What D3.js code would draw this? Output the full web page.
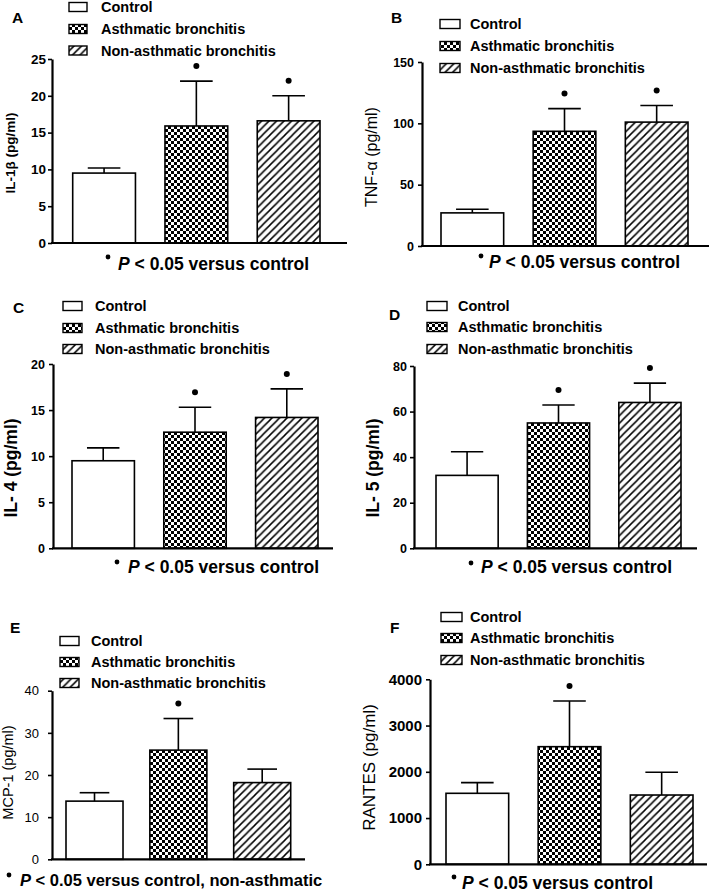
<!DOCTYPE html>
<html><head><meta charset="utf-8">
<script src="https://cdn.jsdelivr.net/npm/d3@7"></script>
<style>body{margin:0;background:#fff}svg{display:block}</style>
</head><body>
<svg id="chart" width="709" height="894"></svg>
<script>
// ---------- DATA ----------
const categories = ["Control", "Asthmatic bronchitis", "Non-asthmatic bronchitis"];
const panelLetters = ["A", "B", "C", "D", "E", "F"];
const yLabels = ["IL-1β (pg/ml)", "TNF-α (pg/ml)", "IL- 4 (pg/ml)", "IL- 5 (pg/ml)", "MCP-1 (pg/ml)", "RANTES (pg/ml)"];
const footnoteRest = [" < 0.05 versus control", " < 0.05 versus control", " < 0.05 versus control",
  " < 0.05 versus control", " < 0.05 versus control, non-asthmatic", " < 0.05 versus control"];
const yMax = [25, 150, 20, 80, 40, 4000];
const ticksA = [0, 5, 10, 15, 20, 25];
const ticksB = [0, 50, 100, 150];
const ticksC = [0, 5, 10, 15, 20];
const ticksD = [0, 20, 40, 60, 80];
const ticksE = [0, 10, 20, 30, 40];
const ticksF = [0, 1000, 2000, 3000, 4000];
const meanA = [9.5, 15.9, 16.6],   errA = [0.7, 6.1, 3.4];
const meanB = [27, 93.5, 101],     errB = [3, 18.5, 13.5];
const meanC = [9.5, 12.6, 14.2],   errC = [1.4, 2.7, 3.1];
const meanD = [32, 55, 64],        errD = [10.4, 7.9, 8.5];
const meanE = [13.8, 25.9, 18.2],  errE = [2.0, 7.5, 3.2];
const meanF = [1535, 2543, 1498],  errF = [230, 987, 492];
const sigA = [false, true, true], sigB = [false, true, true], sigC = [false, true, true];
const sigD = [false, true, true], sigE = [false, true, false], sigF = [false, true, false];

// ---------- LAYOUT (positions/styles only) ----------
const layout = [
  {ax:52,  y0:243,   yTop:59,    barL:72.7, barR:320,   xEnd:347, lx:12,  ly:22.7,
   leg:{bx:69, bw:18, rows:[7,29,50.5], tx:101}, yl:{x:10.5, y:153, fs:13.5, fw:"bold"},
   tk:{fs:13.5, fw:"bold", gap:2}, ft:{bx:108, by:257, tx:118, ty:270, fs:17.5}},
  {ax:422, y0:246,   yTop:62,    barL:441,  barR:688,   xEnd:709, lx:391, ly:23,
   leg:{bx:440, bw:20, rows:[24,46,68], tx:470}, yl:{x:371, y:157, fs:16, fw:"normal"},
   tk:{fs:12.5, fw:"bold", gap:4}, ft:{bx:481, by:256, tx:489, ty:268, fs:17.5}},
  {ax:53,  y0:548.3, yTop:364,   barL:72,   barR:318,   xEnd:333, lx:13,  ly:312.7,
   leg:{bx:63, bw:19, rows:[306,328,349], tx:95}, yl:{x:11, y:468, fs:17.5, fw:"bold"},
   tk:{fs:12.5, fw:"bold", gap:4}, ft:{bx:117, by:562, tx:128, ty:573, fs:17.5}},
  {ax:414, y0:548.3, yTop:366,   barL:436,  barR:681,   xEnd:697, lx:389, ly:320,
   leg:{bx:427, bw:20, rows:[306,327,349], tx:458}, yl:{x:373, y:468, fs:17.5, fw:"bold"},
   tk:{fs:12.5, fw:"bold", gap:3}, ft:{bx:471, by:563, tx:481, ty:573, fs:17.5}},
  {ax:52,  y0:859.3, yTop:690.7, barL:66,   barR:290.7, xEnd:305, lx:10,  ly:633,
   leg:{bx:60, bw:19, rows:[641,662,683], tx:91}, yl:{x:8, y:772.5, fs:14.5, fw:"normal"},
   tk:{fs:13, fw:"normal", gap:9}, ft:{bx:9, by:875, tx:20, ty:886, fs:16.5}},
  {ax:430, y0:864.3, yTop:679.3, barL:446,  barR:693,   xEnd:707, lx:390, ly:633,
   leg:{bx:441, bw:21, rows:[617,638,660], tx:470}, yl:{x:369, y:767.5, fs:17, fw:"normal"},
   tk:{fs:15, fw:"bold", gap:4}, ft:{bx:454, by:877, tx:462, ty:889, fs:17.5}}
];

const tickSets = [ticksA, ticksB, ticksC, ticksD, ticksE, ticksF];
const means = [meanA, meanB, meanC, meanD, meanE, meanF];
const errs = [errA, errB, errC, errD, errE, errF];
const sigs = [sigA, sigB, sigC, sigD, sigE, sigF];
const FONT = "'Liberation Sans', Arial, Helvetica, sans-serif";
const fills = ["#ffffff", "url(#checker)", "url(#hatch)"];

const svg = d3.select("#chart").style("font-family", FONT);
svg.append("rect").attr("width", 709).attr("height", 894).attr("fill", "#fff");

// patterns
const defs = svg.append("defs");
const ck = defs.append("pattern").attr("id", "checker").attr("patternUnits", "userSpaceOnUse")
  .attr("width", 6).attr("height", 6);
ck.append("rect").attr("width", 6).attr("height", 6).attr("fill", "#fff");
ck.append("rect").attr("width", 3).attr("height", 3).attr("fill", "#000");
ck.append("rect").attr("x", 3).attr("y", 3).attr("width", 3).attr("height", 3).attr("fill", "#000");
const ht = defs.append("pattern").attr("id", "hatch").attr("patternUnits", "userSpaceOnUse")
  .attr("width", 7.5).attr("height", 7.5);
ht.append("rect").attr("width", 7.5).attr("height", 7.5).attr("fill", "#fff");
ht.append("path").attr("d", "M-1.875,1.875 L1.875,-1.875 M0,7.5 L7.5,0 M5.625,9.375 L9.375,5.625")
  .attr("stroke", "#000").attr("stroke-width", 1.5);

layout.forEach((L, i) => {
  const g = svg.append("g");
  const data = categories.map((c, j) => ({cat: c, mean: means[i][j], err: errs[i][j], sig: sigs[i][j], fill: fills[j]}));

  const y = d3.scaleLinear().domain([0, yMax[i]]).range([L.y0, L.yTop]);
  const x = d3.scaleBand().domain(categories).range([L.barL, L.barR]).paddingInner(0.32).paddingOuter(0);

  // panel letter
  g.append("text").attr("x", L.lx).attr("y", L.ly).text(panelLetters[i])
    .attr("font-size", 15.5).attr("font-weight", "bold");

  // legend
  const lg = g.append("g");
  categories.forEach((c, j) => {
    const cy = L.leg.rows[j];
    lg.append("rect").attr("x", L.leg.bx).attr("y", cy - 4.5).attr("width", L.leg.bw).attr("height", 9)
      .attr("fill", fills[j]).attr("stroke", "#000").attr("stroke-width", 1.4);
    lg.append("text").attr("x", L.leg.tx).attr("y", cy).attr("dy", "0.36em").text(c)
      .attr("font-size", 14.5).attr("font-weight", "bold");
  });

  // bars
  g.selectAll(".bar").data(data).enter().append("rect")
    .attr("x", d => x(d.cat)).attr("y", d => y(d.mean))
    .attr("width", x.bandwidth()).attr("height", d => y(0) - y(d.mean))
    .attr("fill", d => d.fill).attr("stroke", "#000").attr("stroke-width", 1.6);

  // error bars (upper only)
  const capW = x.bandwidth() * 0.52;
  data.forEach(d => {
    const cx = x(d.cat) + x.bandwidth() / 2;
    g.append("line").attr("x1", cx).attr("x2", cx).attr("y1", y(d.mean)).attr("y2", y(d.mean + d.err))
      .attr("stroke", "#000").attr("stroke-width", 1.6);
    g.append("line").attr("x1", cx - capW / 2).attr("x2", cx + capW / 2)
      .attr("y1", y(d.mean + d.err)).attr("y2", y(d.mean + d.err))
      .attr("stroke", "#000").attr("stroke-width", 1.6);
    if (d.sig) {
      g.append("circle").attr("cx", cx).attr("cy", y(d.mean + d.err) - 15).attr("r", 3).attr("fill", "#000");
    }
  });

  // y axis
  const axis = d3.axisLeft(y).tickValues(tickSets[i]).tickSize(4).tickSizeOuter(0).tickPadding(L.tk.gap)
    .tickFormat(d3.format("d"));
  const ag = g.append("g").attr("transform", `translate(${L.ax},0)`).call(axis);
  ag.select(".domain").attr("stroke-width", 2.2);
  ag.selectAll(".tick line").attr("stroke-width", 1.6);
  ag.selectAll(".tick text").attr("font-size", L.tk.fs).attr("font-weight", L.tk.fw)
    .attr("font-family", FONT).attr("fill", "#000");

  // x axis baseline
  g.append("line").attr("x1", L.ax - 1).attr("x2", L.xEnd).attr("y1", y(0)).attr("y2", y(0))
    .attr("stroke", "#000").attr("stroke-width", 2.2);

  // y label
  g.append("text").attr("transform", `translate(${L.yl.x},${L.yl.y}) rotate(-90)`)
    .attr("text-anchor", "middle").attr("dy", "0.35em")
    .attr("font-size", L.yl.fs).attr("font-weight", L.yl.fw).text(yLabels[i]);

  // footnote
  g.append("circle").attr("cx", L.ft.bx).attr("cy", L.ft.by).attr("r", 2.4).attr("fill", "#000");
  const ft = g.append("text").attr("x", L.ft.tx).attr("y", L.ft.ty)
    .attr("font-size", L.ft.fs).attr("font-weight", "bold");
  ft.append("tspan").attr("font-style", "italic").text("P");
  ft.append("tspan").text(footnoteRest[i]);
});
</script>
</body></html>
